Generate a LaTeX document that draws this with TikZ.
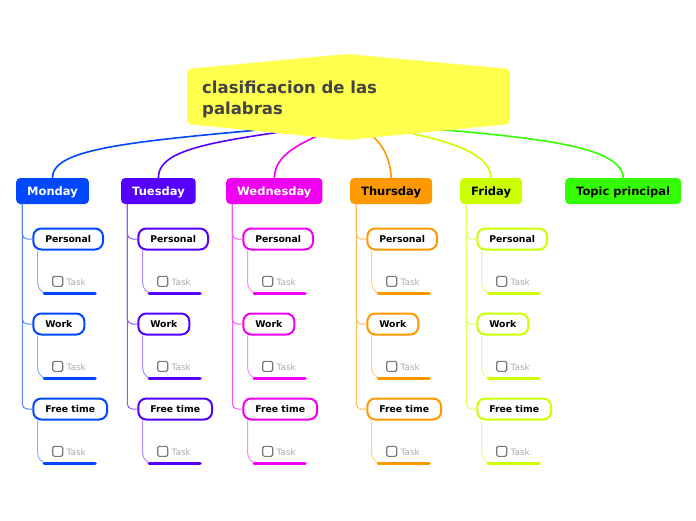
\documentclass[tikz,border=0pt]{standalone}
\usepackage{fontspec}
\setmainfont{DejaVu Sans}
\definecolor{cmon}{RGB}{0,72,255}
\definecolor{ctue}{RGB}{85,0,255}
\definecolor{cwed}{RGB}{240,0,240}
\definecolor{cthu}{RGB}{255,153,0}
\definecolor{cfri}{RGB}{204,255,0}
\definecolor{ctop}{RGB}{51,255,0}
\definecolor{ccen}{RGB}{255,255,77}
\definecolor{ctitle}{RGB}{68,68,68}
\definecolor{ctask}{RGB}{170,170,170}
\definecolor{cchk}{RGB}{120,120,120}
\tikzset{
  daybox/.style={rounded corners=4, minimum height=26, inner xsep=11, inner ysep=0,
    text height=9, text depth=0, font=\bfseries\fontsize{11.5}{13}\selectfont},
  subbox/.style={rounded corners=8, fill=white, line width=2, minimum height=21, inner xsep=12, inner ysep=0,
    text height=7, text depth=0, font=\bfseries\fontsize{9.3}{11}\selectfont, text=black},
  mainlink/.style={line width=1.6},
  vline/.style={line width=1, rounded corners=5},
  sline/.style={line width=1, rounded corners=10},
  bar/.style={line width=3.6, line cap=round},
  chk/.style={draw=cchk, line width=1.1, rounded corners=1.5, minimum size=10, inner sep=0},
  tasktxt/.style={text=ctask, inner sep=0, font=\fontsize{8.8}{10}\selectfont},
}
\newcommand\mmsub[6]{% #1 id, #2 x0, #3 y, #4 label, #5 color, #6 day node
  \node[subbox, draw=#5, anchor=west] (#1) at (#2+16.3,#3) {#4};
  \draw[vline, draw=#5!65!white] ([xshift=6.3]#6.south west) |- (#1.west);
  \coordinate (#1-bs) at (#2+28.3,#3+54.3);
  \coordinate (#1-be) at (#2+79,#3+54.3);
  \draw[sline, draw=#5!45!white] ([xshift=5.4]#1.south west) |- (#1-bs);
  \draw[bar, draw=#5] (#1-bs) -- (#1-be);
  \node[chk] (#1-c) at (#2+41.7,#3+42.3) {};
  \node[tasktxt, anchor=base west] (#1-t) at (#2+50.5,#3+46) {Task};
}
\begin{document}
\begin{tikzpicture}[x=1pt,y=-1pt]
\useasboundingbox[fill=white] (0,0) rectangle (696,520);
% day nodes
\node[daybox, fill=cmon, text=white, anchor=west] (mon) at (16,191) {Monday};
\node[daybox, fill=ctue, text=white, anchor=west] (tue) at (121,191) {Tuesday};
\node[daybox, fill=cwed, text=white, anchor=west] (wed) at (226,191) {Wednesday};
\node[daybox, fill=cthu, text=black, anchor=west] (thu) at (350,191) {Thursday};
\node[daybox, fill=cfri, text=black, anchor=west] (fri) at (460,191) {Friday};
\node[daybox, fill=ctop, text=black, anchor=west] (top) at (565,191) {Topic principal};
% main links
\coordinate (cb) at (348,122);
\draw[mainlink, cmon] (cb) .. controls (150,140) and (52,145) .. (mon.north);
\draw[mainlink, ctue] (cb) .. controls (230,140) and (158,145) .. (tue.north);
\draw[mainlink, cwed] (cb) .. controls (310,140) and (275,150) .. (wed.north);
\draw[mainlink, cthu] (cb) .. controls (375,132) and (390,150) .. (thu.north);
\draw[mainlink, cfri] (cb) .. controls (430,135) and (490,148) .. (fri.north);
\draw[mainlink, ctop] (cb) .. controls (500,135) and (622,140) .. (top.north);
% central topic
\fill[ccen, rounded corners=4] (187,69) -- (347,54) -- (510,69) -- (510,124) -- (347,140) -- (187,124) -- cycle;
\node[anchor=north west, inner sep=0, align=left, text=ctitle,
  font=\bfseries\fontsize{16.5}{20.7}\selectfont] (c) at (202,80.6) {clasificacion de las\\palabras};
% sub items
\mmsub{mon-p}{16}{239}{Personal}{cmon}{mon}
\mmsub{mon-w}{16}{324}{Work}{cmon}{mon}
\mmsub{mon-f}{16}{409}{Free time}{cmon}{mon}
\mmsub{tue-p}{121}{239}{Personal}{ctue}{tue}
\mmsub{tue-w}{121}{324}{Work}{ctue}{tue}
\mmsub{tue-f}{121}{409}{Free time}{ctue}{tue}
\mmsub{wed-p}{226}{239}{Personal}{cwed}{wed}
\mmsub{wed-w}{226}{324}{Work}{cwed}{wed}
\mmsub{wed-f}{226}{409}{Free time}{cwed}{wed}
\mmsub{thu-p}{350}{239}{Personal}{cthu}{thu}
\mmsub{thu-w}{350}{324}{Work}{cthu}{thu}
\mmsub{thu-f}{350}{409}{Free time}{cthu}{thu}
\mmsub{fri-p}{460}{239}{Personal}{cfri}{fri}
\mmsub{fri-w}{460}{324}{Work}{cfri}{fri}
\mmsub{fri-f}{460}{409}{Free time}{cfri}{fri}
\end{tikzpicture}
\end{document}
